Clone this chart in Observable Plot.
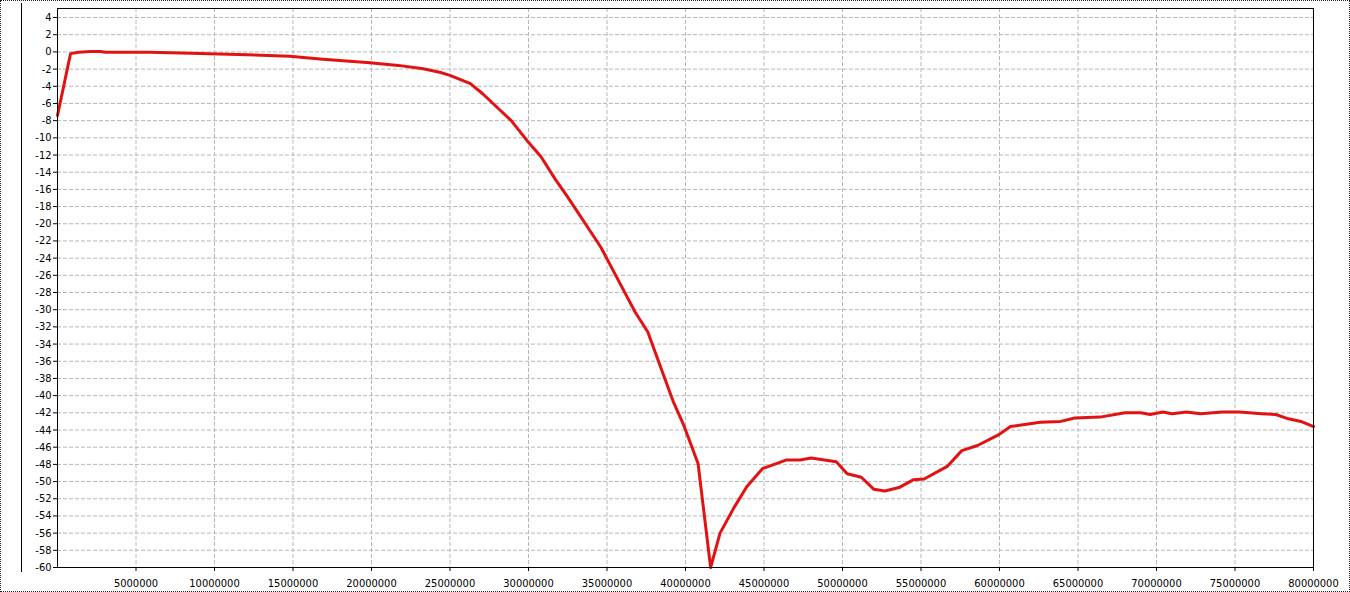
<!DOCTYPE html>
<html>
<head>
<meta charset="utf-8">
<script src="https://cdn.jsdelivr.net/npm/d3@7"></script>
<script src="https://cdn.jsdelivr.net/npm/@observablehq/plot@0.6"></script>
<style>
  html, body { margin: 0; padding: 0; background: #fff; }
  #wrap { position: relative; width: 1350px; height: 592px; overflow: hidden; }
  #border { position: absolute; left: 0; top: 0; width: 1350px; height: 592px; box-sizing: border-box; border: 1px dotted #222; pointer-events: none; }
  #vline { position: absolute; left: 21px; top: 3px; width: 1px; height: 569px; background: #000; pointer-events: none; }
</style>
</head>
<body>
<div id="wrap">
  <div id="chart"></div>
  <div id="border"></div>
  <div id="vline"></div>
</div>
<script>
// Frequency (Hz)
const freq = [
  0, 830000, 1340000, 2100000, 2740000, 3060000, 5900000, 8470000, 11500000, 14800000,
  16900000, 19900000, 21700000, 23300000, 24400000, 25000000, 26300000, 27100000, 28900000, 29900000,
  30800000, 31700000, 32500000, 34600000, 35900000, 36800000, 37600000, 38500000, 39200000, 39900000,
  40800000, 41600000, 42200000, 43100000, 43900000, 44900000, 46400000, 47300000, 48000000, 49600000,
  50300000, 51200000, 52000000, 52700000, 53600000, 54500000, 55200000, 56700000, 57600000, 58600000,
  59900000, 60700000, 61500000, 62600000, 63900000, 64800000, 66400000, 68000000, 69000000, 69600000,
  70400000, 71000000, 71900000, 72800000, 74200000, 75300000, 76700000, 77600000, 78400000, 79200000,
  80000000
];
// Gain (dB)
const gain = [
  -7.4, -0.2, -0.05, 0.05, 0.05, -0.05, -0.05, -0.15, -0.3, -0.5,
  -0.85, -1.25, -1.57, -1.96, -2.4, -2.73, -3.7, -4.9, -8.0, -10.3,
  -12.2, -14.8, -16.9, -22.7, -27.2, -30.3, -32.6, -37.1, -40.6, -43.5,
  -47.9, -60, -56.0, -53.0, -50.6, -48.5, -47.5, -47.5, -47.25, -47.7,
  -49.1, -49.5, -50.9, -51.1, -50.7, -49.8, -49.7, -48.2, -46.4, -45.8,
  -44.6, -43.6, -43.4, -43.1, -43.0, -42.6, -42.5, -42.0, -42.0, -42.2,
  -41.9, -42.1, -41.9, -42.1, -41.9, -41.9, -42.1, -42.2, -42.7, -43.0,
  -43.6
];
const xTicks = [5000000, 10000000, 15000000, 20000000, 25000000, 30000000, 35000000, 40000000,
  45000000, 50000000, 55000000, 60000000, 65000000, 70000000, 75000000, 80000000];
const yTicks = [4, 2, 0, -2, -4, -6, -8, -10, -12, -14, -16, -18, -20, -22, -24, -26, -28, -30,
  -32, -34, -36, -38, -40, -42, -44, -46, -48, -50, -52, -54, -56, -58, -60];

const data = freq.map((f, i) => ({f, g: gain[i]}));

const chart = Plot.plot({
  width: 1350,
  height: 592,
  marginLeft: 57,
  marginRight: 37,
  marginTop: 8,
  marginBottom: 25,
  style: {fontFamily: "'DejaVu Sans Condensed', 'Liberation Sans', sans-serif", fontSize: "11px", color: "#000", background: "#fff"},
  x: {domain: [0, 80000000]},
  y: {domain: [-60, 5.05]},
  marks: [
    Plot.gridX(xTicks.filter(d => d < 80000000), {stroke: "#b8b8b8", strokeOpacity: 1, strokeDasharray: "4,2"}),
    Plot.gridY(yTicks.filter(d => d > -60), {stroke: "#b8b8b8", strokeOpacity: 1, strokeDasharray: "4,2"}),
    Plot.axisX(xTicks, {tickSize: 4, tickPadding: 8, tickFormat: d => String(d), label: null, fontSize: 11}),
    Plot.axisY(yTicks, {tickSize: 4, tickPadding: 2, tickFormat: d => String(d), label: null, fontSize: 11}),
    Plot.line(data, {x: "f", y: "g", stroke: "#e31212", strokeWidth: 3, strokeLinejoin: "round"}),
    Plot.frame({stroke: "#000", strokeWidth: 1})
  ]
});
document.getElementById("chart").appendChild(chart);
</script>
</body>
</html>
